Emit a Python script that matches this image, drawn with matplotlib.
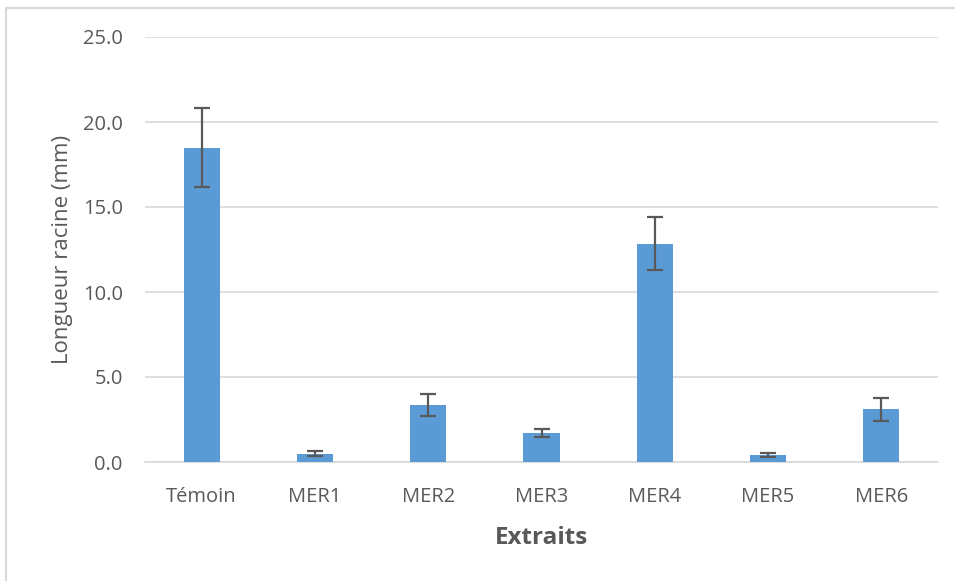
import matplotlib
matplotlib.use("Agg")
import matplotlib.pyplot as plt
from matplotlib.patches import Rectangle

categories = ["Témoin", "MER1", "MER2", "MER3", "MER4", "MER5", "MER6"]
values = [18.5, 0.5, 3.35, 1.7, 12.85, 0.4, 3.1]
errors = [2.3, 0.12, 0.65, 0.25, 1.55, 0.13, 0.68]
yticks = [0.0, 5.0, 10.0, 15.0, 20.0, 25.0]

plt.rcParams['font.family'] = ['Open Sans', 'DejaVu Sans']

W, H = 955, 581
fig = plt.figure(figsize=(W/100, H/100), dpi=100)
ax = fig.add_axes([145/W, 1-462/H, (938-145)/W, (462-37)/H])

x = list(range(len(categories)))
ax.bar(x, values, width=0.32, color="#5B9BD5", zorder=3)
ax.errorbar(x, values, yerr=errors, fmt="none", ecolor="#595959",
            elinewidth=1.6, capsize=6, capthick=1.6, zorder=4)

ax.set_xlim(-0.5, len(categories) - 0.5)
ax.set_ylim(0, 25)
ax.set_yticks(yticks)
ax.set_yticklabels([f"{v:.1f}" for v in yticks])
ax.set_xticks(x)
ax.set_xticklabels(categories)
ax.tick_params(axis='both', length=0, labelsize=14.5, labelcolor="#595959")
ax.tick_params(axis='y', pad=16)
ax.tick_params(axis='x', pad=18)
ax.yaxis.grid(True, color="#D9D9D9", linewidth=1.2, zorder=0)
ax.set_axisbelow(True)
for s in ["top", "right", "left"]:
    ax.spines[s].set_visible(False)
ax.spines["bottom"].set_color("#D9D9D9")
ax.spines["bottom"].set_linewidth(1.2)

ax.set_ylabel("Longueur racine (mm)", fontsize=16, color="#595959", labelpad=7)
ax.set_xlabel("Extraits", fontsize=17.5, fontweight="bold", color="#595959", labelpad=14)

# outer chart border (light gray)
fig.patches.append(Rectangle((6/W, -0.1), 1.2, 1 - 8/H + 0.1, transform=fig.transFigure,
                             fill=False, edgecolor="#D9D9D9", linewidth=1.5))

fig.savefig("out.png", dpi=100)
